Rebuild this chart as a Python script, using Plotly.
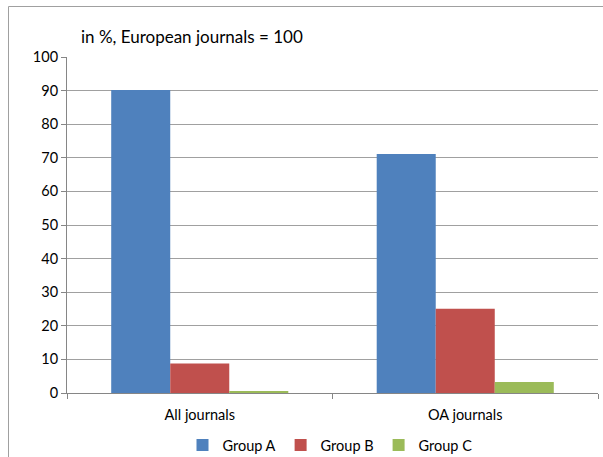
import plotly.graph_objects as go

categories = ["All journals", "OA journals"]
group_a = [90.2, 71.1]
group_b = [8.8, 25.1]
group_c = [0.3, 3.3]
series_names = ["Group A", "Group B", "Group C"]
series_colors = ["#4F81BD", "#C0504D", "#9BBB59"]
y_ticks = [0, 10, 20, 30, 40, 50, 60, 70, 80, 90, 100]

FONT = "Lato"

fig = go.Figure()
for name, vals, col in zip(series_names, [group_a, group_b, group_c], series_colors):
    fig.add_trace(go.Bar(x=categories, y=vals, name=name, marker=dict(color=col, line=dict(width=0))))

W, H = 603, 457
L, R, T, B = 67, 5, 57, 64
pw = W - L - R
ph = H - T - B

def px2x(px):
    return (px - L) / pw

def py2y(py):
    return (H - B - py) / ph

fig.update_layout(
    width=W, height=H,
    margin=dict(l=L, r=R, t=T, b=B, autoexpand=False),
    paper_bgcolor="white", plot_bgcolor="white",
    barmode="group", bargap=0.333, bargroupgap=0,
    font=dict(family=FONT, size=14, color="#000000"),
    showlegend=True,
    legend=dict(orientation="h", x=px2x(330), xanchor="center", y=py2y(445), yanchor="middle",
                font=dict(size=14.5), itemwidth=30,
                tracegroupgap=0, bgcolor="rgba(0,0,0,0)"),
    xaxis=dict(type="category", showline=True, linecolor="#868686", linewidth=1,
               ticks="outside", tickson="boundaries", ticklen=5, tickcolor="#868686",
               showgrid=False, tickfont=dict(size=14.5), ticklabelstandoff=9, automargin=False),
    yaxis=dict(range=[0, 100], tickvals=y_ticks, showline=True, linecolor="#868686", linewidth=1,
               ticks="outside", ticklen=5, tickcolor="#868686",
               showgrid=True, gridcolor="#a0a0a0", gridwidth=1, zeroline=False,
               tickfont=dict(size=14.5), ticklabelstandoff=0, automargin=False),
)

fig.add_annotation(text="in %, European journals = 100", xref="paper", yref="paper",
                   x=px2x(79), y=py2y(36), xanchor="left", yanchor="middle",
                   showarrow=False, font=dict(size=17, family=FONT))

fig.add_shape(type="rect", xref="paper", yref="paper",
              x0=px2x(8.5), x1=px2x(620), y0=py2y(480), y1=py2y(6.5),
              line=dict(color="#a0a0a0", width=1), fillcolor="rgba(0,0,0,0)", layer="below")

fig.write_html("out.html")
